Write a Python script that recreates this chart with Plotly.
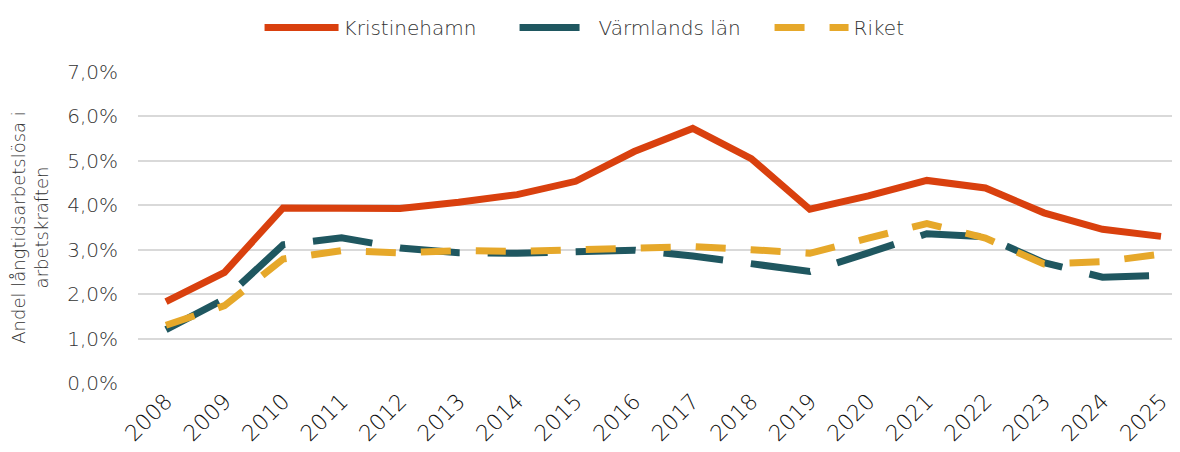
import plotly.graph_objects as go

years = [str(y) for y in range(2008, 2026)]
kristinehamn = [1.83, 2.49, 3.94, 3.95, 3.93, 4.07, 4.24, 4.54, 5.21, 5.73, 5.05, 3.91, 4.21, 4.56, 4.39, 3.83, 3.46, 3.30]
varmland = [1.20, 1.89, 3.11, 3.27, 3.04, 2.93, 2.92, 2.94, 2.99, 2.86, 2.68, 2.51, 2.93, 3.36, 3.29, 2.71, 2.38, 2.42]
riket = [1.30, 1.74, 2.79, 2.98, 2.93, 2.98, 2.96, 3.00, 3.04, 3.07, 3.00, 2.92, 3.26, 3.59, 3.26, 2.68, 2.73, 2.90]

names = ["Kristinehamn", "Värmlands län", "Riket"]
colors = ["#D9400E", "#1F5760", "#E6A82A"]
dashes = ["solid", "60px,28px", "30px,25px"]

FONT = "DejaVu Sans"
TXT = "#333333"

fig = go.Figure()
for name, vals, c, d in zip(names, [kristinehamn, varmland, riket], colors, dashes):
    fig.add_trace(go.Scatter(
        x=list(range(len(years))), y=vals, name=name, mode="lines",
        line=dict(color=c, width=7, dash=d),
    ))

fig.update_layout(
    width=1172, height=444,
    margin=dict(l=130, r=0, t=64, b=69, autoexpand=False),
    paper_bgcolor="white", plot_bgcolor="white",
    separators=",.",
    font=dict(family=FONT, color=TXT, size=18, weight=200),
    showlegend=True,
    legend=dict(orientation="h", x=0.541, xref="container", xanchor="center",
                y=1.0, yref="container", yanchor="top",
                font=dict(size=20, family=FONT, color=TXT, weight=200),
                itemwidth=74, entrywidth=166, tracegroupgap=0, traceorder="normal"),
    xaxis=dict(
        tickmode="array", tickvals=list(range(len(years))), ticktext=years,
        range=[-0.478, 17.325], tickangle=-45, showgrid=False, zeroline=False,
        showline=False, ticks="", tickfont=dict(size=22, family=FONT, color="#111111", weight=200),
    ),
    yaxis=dict(
        range=[0, 7.0], dtick=1, tick0=0, tickformat=".1f", ticksuffix="%",
        showgrid=True, gridcolor="#d9d9d9", gridwidth=2, zeroline=False,
        showline=False, ticks="", ticklabelstandoff=19,
        tickfont=dict(size=20, family=FONT, color=TXT, weight=200),
        title=dict(text="Andel långtidsarbetslösa i<br>arbetskraften",
                   font=dict(size=18, family=FONT, color=TXT, weight=200), standoff=13),
    ),
)

fig.write_html("out.html")
